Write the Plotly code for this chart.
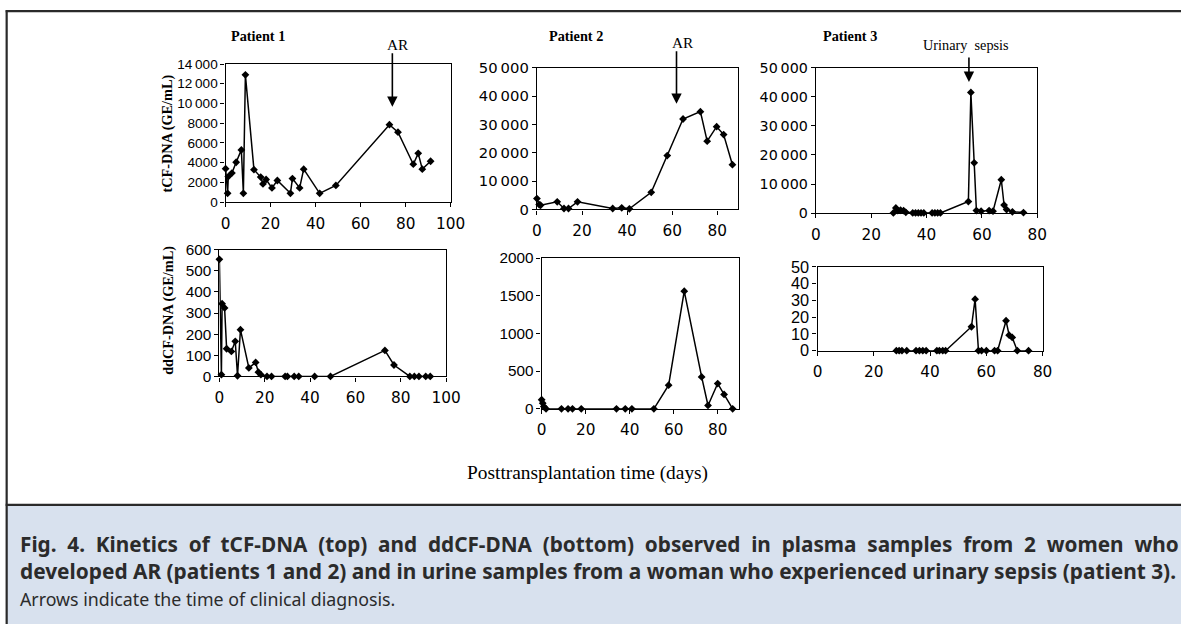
import plotly.graph_objects as go

# Figure size; the photograph shows the page (incl. the default 8px body margin)
# slightly shrunk, so reference pixel positions are mapped back through SX/SY.
W, H = 1196, 633
OFF = 8
SX, SY = 0.98, 0.975
K = 1 / 0.98  # font compensation

# ---------------- data ----------------
p1_t_days = [0, 0.9, 1.2, 2.8, 4.7, 7.0, 7.9, 8.8, 12.6, 15.6, 16.6, 18.0, 20.6, 23.0, 28.8, 29.7,
             32.9, 34.7, 41.8, 49.0, 72.8, 76.6, 83.4, 85.6, 87.4, 91.1]
p1_t_vals = [3400, 900, 2600, 2950, 4050, 5300, 900, 12900, 3300, 2550, 1850, 2300, 1450, 2200, 900, 2400,
             1450, 3350, 900, 1700, 7850, 7100, 3850, 4950, 3350, 4150]

p1_d_days = [0, 0.9, 1.2, 2.3, 3.2, 5.3, 7.0, 8.0, 9.3, 13.0, 16.0, 17.2, 18.3, 21, 23, 29, 30, 33, 35,
             42, 49, 73, 77, 84, 86, 88, 91, 93]
p1_d_vals = [554, 8, 344, 324, 131, 118, 166, 3, 221, 40, 66, 20, 8, 0, 0, 0, 0, 0, 0,
             0, 0, 123, 54, 0, 0, 0, 0, 0]

p2_t_days = [0, 1, 1.6, 9, 12, 14, 18, 33.6, 37.6, 41, 50.7, 57.8, 64.8, 72.5, 75.5, 79.7, 82.8, 86.7]
p2_t_vals = [3850, 1750, 1500, 2700, 350, 350, 2700, 350, 600, 250, 6050, 19000, 31900, 34500, 24100,
             29200, 26400, 15800]

p2_d_days = [0, 0.5, 1, 2, 9, 12, 14, 18, 34, 38, 41, 51, 57.7, 64.8, 72.7, 75.6, 80, 82.9, 86.8]
p2_d_vals = [120, 75, 30, 0, 0, 0, 0, 0, 0, 0, 0, 0, 313, 1560, 423, 44, 335, 190, 0]

p3_t_days = [28, 28.9, 29.6, 30.6, 31.7, 32.5, 35, 36, 37, 38, 39, 42, 43, 44, 45, 55.1, 56, 57.2, 58,
             59.7, 62.6, 64, 67, 68, 68.9, 71, 75]
p3_t_vals = [100, 1800, 900, 1000, 900, 300, 100, 100, 100, 100, 100, 100, 100, 100, 100, 4000, 41500,
             17300, 900, 700, 900, 700, 11500, 2800, 1250, 450, 200]

p3_d_days = [28, 29, 30, 31.7, 35, 36.2, 37.4, 38.6, 42.4, 43.3, 44.5, 45.5, 54.7, 56, 57.2, 58.3, 60,
             62.9, 64, 67, 68.1, 69.2, 71, 75]
p3_d_vals = [0, 0, 0, 0, 0, 0, 0, 0, 0, 0, 0, 0, 14.3, 30.8, 0, 0, 0, 0, 0, 17.9, 9.3, 7.9, 0, 0]

# events (day, value at arrow head)
ar_p1 = (74.1, 9660)
ar_p2 = (61.9, 37250)
sepsis_p3 = (55.3, 45100)

x_ticks_100 = [0, 20, 40, 60, 80, 100]
x_ticks_80 = [0, 20, 40, 60, 80]
y_p1_t_vals = [0, 2000, 4000, 6000, 8000, 10000, 12000, 14000]
y_p1_t_text = ["0", "2000", "4000", "6000", "8000", "10\u2009000", "12\u2009000", "14\u2009000"]
y_50k_vals = [0, 10000, 20000, 30000, 40000, 50000]
y_50k_text = ["0", "10\u2009000", "20\u2009000", "30\u2009000", "40\u2009000", "50\u2009000"]
y_p1_d_vals = [0, 100, 200, 300, 400, 500, 600]
y_p2_d_vals = [0, 500, 1000, 1500, 2000]
y_p3_d_vals = [0, 10, 20, 30, 40, 50]

# ---------------- helpers (reference pixels -> paper fractions) ----------------
def fx(px):
    return (px / SX - OFF) / W

def fy(py):
    return 1 - (py / SY - OFF) / H

SANS_W = "DejaVu Sans, Verdana, sans-serif"
SANS_N = "Liberation Sans, Arial, sans-serif"
SERIF = "Liberation Serif, Times New Roman, serif"
CAPFONT = "Noto Sans, Open Sans, sans-serif"


def xax(x0, x1, y_anchor, rng, ticks, size=15):
    return dict(domain=[fx(x0), fx(x1)], anchor=y_anchor, range=rng, tickvals=ticks,
                showline=True, mirror=True, linecolor="black", linewidth=1.3,
                ticks="outside", ticklen=4, tickcolor="black", tickwidth=1.2,
                showgrid=False, zeroline=False,
                tickfont=dict(family=SANS_W, size=size * K, color="black"), ticklabelstandoff=3,
                fixedrange=True)


def yax(y0, y1, x_anchor, rng, tv, tt=None, fam=SANS_N, size=14):
    d = dict(domain=[fy(y1), fy(y0)], anchor=x_anchor, range=rng, tickvals=tv,
             showline=True, mirror=True, linecolor="black", linewidth=1.3,
             ticks="outside", ticklen=4, tickcolor="black", tickwidth=1.2,
             showgrid=False, zeroline=False,
             tickfont=dict(family=fam, size=size * K, color="black"), fixedrange=True)
    if tt is not None:
        d["ticktext"] = tt
    return d


fig = go.Figure()

series = [
    (p1_t_days, p1_t_vals, "x", "y"),
    (p1_d_days, p1_d_vals, "x2", "y2"),
    (p2_t_days, p2_t_vals, "x3", "y3"),
    (p2_d_days, p2_d_vals, "x4", "y4"),
    (p3_t_days, p3_t_vals, "x5", "y5"),
    (p3_d_days, p3_d_vals, "x6", "y6"),
]
for xs, ys, xa, ya in series:
    fig.add_trace(go.Scatter(x=xs, y=ys, xaxis=xa, yaxis=ya, mode="lines+markers",
                             line=dict(color="black", width=1.5),
                             marker=dict(symbol="diamond", size=6, color="black"),
                             cliponaxis=False, showlegend=False, hoverinfo="x+y"))

layout = dict(
    width=W, height=H, autosize=False,
    margin=dict(l=0, r=0, t=0, b=0),
    paper_bgcolor="white", plot_bgcolor="white",
    showlegend=False,
    xaxis=xax(227.7, 452, "y", [0, 100], x_ticks_100),
    yaxis=yax(63, 201.7, "x", [0, 14000], y_p1_t_vals, y_p1_t_text, SANS_N, 13.3),
    xaxis2=xax(221.5, 447.5, "y2", [0, 100], x_ticks_100),
    yaxis2=yax(249.3, 376.5, "x2", [0, 600], y_p1_d_vals, None, SANS_N, 15),
    xaxis3=xax(538, 738, "y3", [0, 89], x_ticks_80),
    yaxis3=yax(66.7, 209, "x3", [0, 50000], y_50k_vals, y_50k_text, SANS_W, 14.5),
    xaxis4=xax(542.7, 739, "y4", [0, 89.5], x_ticks_80),
    yaxis4=yax(257.7, 409, "x4", [0, 2000], y_p2_d_vals, None, SANS_N, 15),
    xaxis5=xax(816, 1036.7, "y5", [0, 80], x_ticks_80),
    yaxis5=yax(66.7, 212.7, "x5", [0, 50000], y_50k_vals, y_50k_text, SANS_W, 14),
    xaxis6=xax(817.7, 1042, "y6", [0, 80], x_ticks_80),
    yaxis6=yax(266.7, 350.7, "x6", [0, 50], y_p3_d_vals, None, SANS_N, 16),
)
fig.update_layout(**layout)

# ---------------- frame & caption background ----------------
shapes = [
    dict(type="rect", xref="paper", yref="paper", x0=fx(9), x1=1.0, y0=0.0, y1=fy(506),
         fillcolor="#d8e1ee", line=dict(width=0), layer="below"),
    dict(type="line", xref="paper", yref="paper", x0=fx(8.5), x1=1.0, y0=fy(10), y1=fy(10),
         line=dict(color="#2a2a2a", width=2.2)),
    dict(type="line", xref="paper", yref="paper", x0=fx(9.5), x1=fx(9.5), y0=fy(9), y1=0.0,
         line=dict(color="#2a2a2a", width=2.2)),
    dict(type="line", xref="paper", yref="paper", x0=fx(8.5), x1=1.0, y0=fy(505.5), y1=fy(505.5),
         line=dict(color="#2a2a2a", width=2.2)),
]
fig.update_layout(shapes=shapes)

ann = []
# patient titles
for txt, px in [("Patient 1", 260), ("Patient 2", 577), ("Patient 3", 850)]:
    ann.append(dict(text="<b>%s</b>" % txt, xref="paper", yref="paper", x=fx(px), y=fy(35),
                    showarrow=False, xanchor="center", yanchor="middle",
                    font=dict(family=SERIF, size=14 * K, color="black")))
# event labels
ann.append(dict(text="AR", xref="paper", yref="paper", x=fx(400), y=fy(43), showarrow=False,
                xanchor="center", yanchor="middle", font=dict(family=SERIF, size=15 * K, color="black")))
ann.append(dict(text="AR", xref="paper", yref="paper", x=fx(684), y=fy(41), showarrow=False,
                xanchor="center", yanchor="middle", font=dict(family=SERIF, size=15 * K, color="black")))
ann.append(dict(text="Urinary&nbsp;&nbsp;sepsis", xref="paper", yref="paper", x=fx(966), y=fy(44),
                showarrow=False, xanchor="center", yanchor="middle",
                font=dict(family=SERIF, size=14 * K, color="black")))
# arrows
for (d, v), xa, ya, alen in [(ar_p1, "x", "y", -55), (ar_p2, "x3", "y3", -54), (sepsis_p3, "x5", "y5", -26)]:
    ann.append(dict(text="", x=d, y=v, xref=xa, yref=ya, showarrow=True, ax=0, ay=alen,
                    axref="pixel", ayref="pixel", arrowhead=2, arrowsize=1.3, arrowwidth=1.6,
                    arrowcolor="black", standoff=0, startstandoff=0))
# y axis titles
ann.append(dict(text="<b>tCF-DNA (GE/mL)</b>", xref="paper", yref="paper", x=fx(170), y=fy(133),
                showarrow=False, textangle=-90, xanchor="center", yanchor="middle",
                font=dict(family=SERIF, size=14 * K, color="black")))
ann.append(dict(text="<b>ddCF-DNA (GE/mL)</b>", xref="paper", yref="paper", x=fx(170), y=fy(310),
                showarrow=False, textangle=-90, xanchor="center", yanchor="middle",
                font=dict(family=SERIF, size=14 * K, color="black")))
# shared x title
ann.append(dict(text="Posttransplantation time (days)", xref="paper", yref="paper", x=fx(588), y=fy(473),
                showarrow=False, xanchor="center", yanchor="middle",
                font=dict(family=SERIF, size=19 * K, color="black")))
# caption
cap1_words = "Fig. 4. Kinetics of tCF-DNA (top) and ddCF-DNA (bottom) observed in plasma samples from 2 women who".split(" ")
cap1 = "<b>" + "&nbsp; ".join(cap1_words) + "</b>"
cap2 = "<b>developed AR (patients 1 and 2) and in urine samples from a woman who experienced urinary sepsis (patient 3).</b>"
cap3 = "Arrows indicate the time of clinical diagnosis."
for txt, py, sz in [(cap1, 545, 20.75), (cap2, 572, 20.85), (cap3, 600, 17.8)]:
    ann.append(dict(text=txt, xref="paper", yref="paper", x=fx(21), y=fy(py), showarrow=False,
                    xanchor="left", yanchor="middle",
                    font=dict(family=CAPFONT, size=sz, color="#2b2b2b")))
fig.update_layout(annotations=ann)

fig.write_html("out.html")
